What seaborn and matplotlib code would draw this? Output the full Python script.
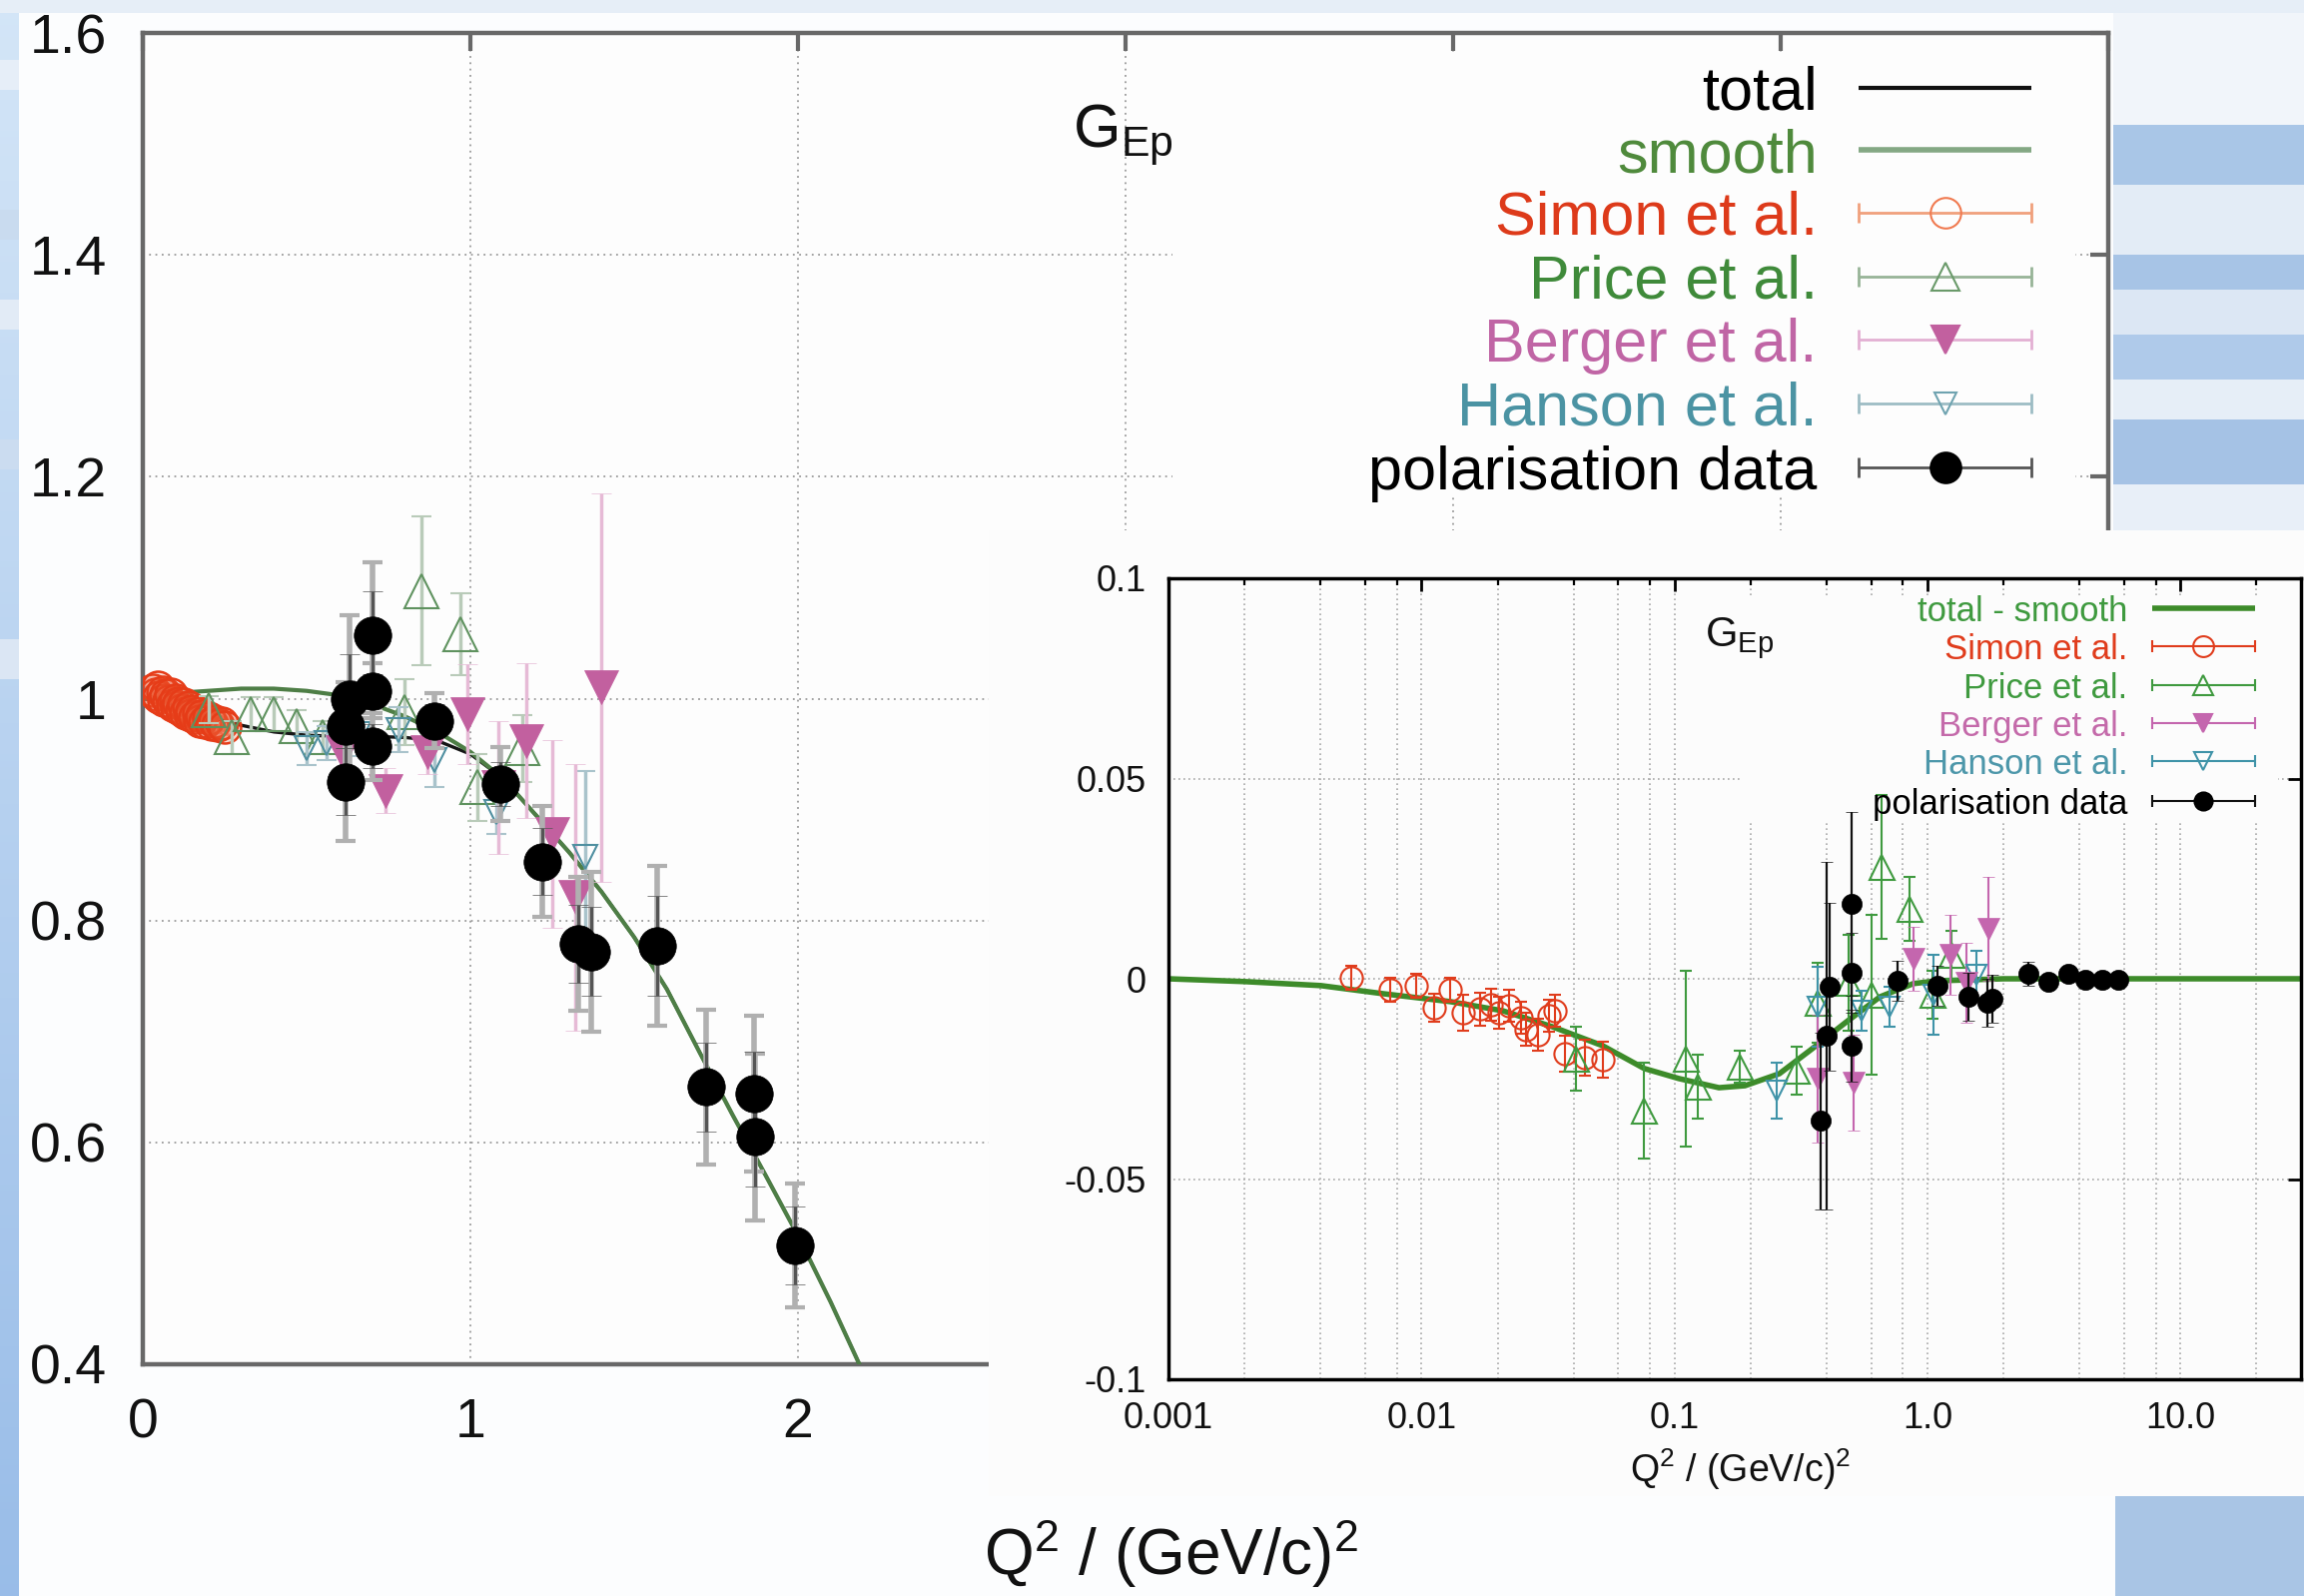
import numpy as np
import matplotlib
matplotlib.use("Agg")
import matplotlib.pyplot as plt
from matplotlib.patches import Rectangle
from matplotlib.ticker import FixedLocator, NullFormatter
import seaborn as sns

# ---------------- main panel: G_Ep (relative to dipole) vs Q^2 ----------------
curve_q2 = [0.0, 0.05, 0.1, 0.15, 0.2, 0.3, 0.4, 0.5, 0.6, 0.7, 0.8, 0.9, 1.0, 1.1, 1.2,
            1.3, 1.4, 1.5, 1.6, 1.7, 1.8, 1.9, 2.0, 2.1, 2.2]
total_ratio = [1.0, 0.998, 0.994, 0.989, 0.984, 0.976, 0.970, 0.967, 0.966, 0.966, 0.965,
               0.962, 0.950, 0.928, 0.895, 0.862, 0.826, 0.785, 0.738, 0.681, 0.625, 0.571,
               0.516, 0.456, 0.392]
smooth_ratio = [1.0, 1.002, 1.004, 1.006, 1.007, 1.009, 1.009, 1.007, 1.003, 0.995, 0.984,
                0.970, 0.952, 0.928, 0.895, 0.862, 0.826, 0.785, 0.738, 0.681, 0.625, 0.571,
                0.516, 0.456, 0.392]

simon_q2 = [0.03, 0.04, 0.045, 0.05, 0.06, 0.065, 0.07, 0.08, 0.085, 0.09, 0.10, 0.105,
            0.11, 0.12, 0.125, 0.13, 0.14, 0.145, 0.15, 0.16, 0.17, 0.175, 0.18, 0.19,
            0.20, 0.21, 0.22, 0.23, 0.24, 0.25]
simon_ratio = [1.008, 1.004, 1.010, 1.001, 1.006, 0.999, 1.003, 0.998, 1.004, 0.994, 0.999,
               0.992, 0.996, 0.990, 0.995, 0.987, 0.992, 0.985, 0.989, 0.983, 0.987, 0.980,
               0.984, 0.979, 0.982, 0.977, 0.980, 0.976, 0.978, 0.974]
simon_err = [0.006] * 30

price_q2 = [0.20, 0.27, 0.33, 0.40, 0.47, 0.55, 0.80, 0.85, 0.97, 1.02, 1.16]
price_ratio = [0.990, 0.965, 0.986, 0.986, 0.975, 0.965, 0.988, 1.097, 1.058, 0.920, 0.955]
price_err = [0.012, 0.015, 0.015, 0.015, 0.015, 0.015, 0.030, 0.067, 0.037, 0.030, 0.030]

hanson_q2 = [0.50, 0.56, 0.66, 0.78, 0.89, 1.08, 1.35]
hanson_ratio = [0.955, 0.960, 0.968, 0.972, 0.945, 0.898, 0.857]
hanson_err = [0.015, 0.015, 0.020, 0.020, 0.025, 0.020, 0.078]

berger_q2 = [0.61, 0.74, 0.87, 0.99, 1.085, 1.17, 1.25, 1.32, 1.40]
berger_ratio = [0.952, 0.917, 0.952, 0.986, 0.920, 0.962, 0.878, 0.821, 1.010]
berger_err = [0.020, 0.020, 0.020, 0.045, 0.060, 0.070, 0.085, 0.120, 0.175]

pol_q2 = [0.62, 0.62, 0.63, 0.70, 0.70, 0.70, 0.89, 1.09, 1.22, 1.33, 1.37, 1.57, 1.72,
          1.866, 1.87, 1.99]
pol_ratio = [0.925, 0.975, 1.000, 1.057, 1.007, 0.957, 0.980, 0.923, 0.853, 0.779, 0.772,
             0.777, 0.650, 0.644, 0.605, 0.507]
pol_err = [0.053, 0.040, 0.075, 0.066, 0.025, 0.030, 0.025, 0.033, 0.050, 0.060, 0.072,
           0.072, 0.070, 0.070, 0.075, 0.056]
pol_stat = [0.030, 0.020, 0.040, 0.040, 0.015, 0.020, 0.015, 0.020, 0.030, 0.035, 0.040,
            0.045, 0.040, 0.038, 0.045, 0.035]

main_xticks = [0, 1, 2, 3, 4, 5, 6]
main_xticklabels = ["0", "1", "2", "", "", "", ""]
main_yticks = [0.4, 0.6, 0.8, 1.0, 1.2, 1.4, 1.6]
main_yticklabels = ["0.4", "0.6", "0.8", "1", "1.2", "1.4", "1.6"]

# ---------------- inset: total - smooth on a log Q^2 axis ----------------
diff_q2 = [0.001, 0.002, 0.004, 0.007, 0.013, 0.021, 0.033, 0.052, 0.076, 0.104, 0.15,
           0.19, 0.26, 0.35, 0.48, 0.65, 0.88, 1.1, 2.0, 5.0, 30.0]
diff_val = [0.0, -0.0007, -0.0017, -0.0037, -0.0057, -0.0080, -0.0120, -0.0167, -0.0224,
            -0.0249, -0.0272, -0.0267, -0.0237, -0.0175, -0.0107, -0.0045, -0.0012,
            -0.0005, 0.0, 0.0, 0.0]

simon_in_q2 = [0.0053, 0.0075, 0.0095, 0.0112, 0.0130, 0.0146, 0.0170, 0.0188, 0.0203,
               0.0222, 0.0247, 0.0258, 0.0290, 0.0318, 0.0337, 0.0369, 0.0441, 0.0520]
simon_in_val = [0.0002, -0.0027, -0.0018, -0.0072, -0.0027, -0.0085, -0.0076, -0.0064,
                -0.0085, -0.0068, -0.0097, -0.0126, -0.0139, -0.0093, -0.0080, -0.0188,
                -0.0197, -0.0201]
simon_in_err = [0.003, 0.003, 0.003, 0.0035, 0.003, 0.0045, 0.004, 0.004, 0.004, 0.004,
                0.004, 0.004, 0.004, 0.004, 0.004, 0.0045, 0.0045, 0.0045]

price_in_q2 = [0.041, 0.076, 0.111, 0.124, 0.182, 0.303, 0.37, 0.49, 0.60, 0.66, 0.85,
               1.05, 1.25]
price_in_val = [-0.020, -0.033, -0.020, -0.027, -0.022, -0.023, -0.006, -0.001, -0.004,
                0.028, 0.0175, -0.004, 0.006]
price_in_err = [0.008, 0.012, 0.022, 0.008, 0.004, 0.006, 0.010, 0.012, 0.020, 0.018,
                0.008, 0.006, 0.006]

berger_in_q2 = [0.37, 0.51, 0.88, 1.23, 1.43, 1.74]
berger_in_val = [-0.025, -0.026, 0.005, 0.006, -0.001, 0.0125]
berger_in_err = [0.016, 0.012, 0.008, 0.010, 0.010, 0.013]

hanson_in_q2 = [0.253, 0.37, 0.55, 0.71, 1.06, 1.56]
hanson_in_val = [-0.028, -0.007, -0.008, -0.007, -0.004, 0.001]
hanson_in_err = [0.007, 0.010, 0.005, 0.005, 0.010, 0.006]

pol_in_q2 = [0.38, 0.40, 0.41, 0.50, 0.50, 0.50, 0.76, 1.10, 1.45, 1.72, 1.80, 2.5, 3.0,
             3.6, 4.2, 4.9, 5.7]
pol_in_val = [-0.0355, -0.0142, -0.002, 0.0187, 0.0015, -0.0167, -0.0005, -0.0017, -0.0045,
              -0.006, -0.005, 0.0012, -0.0008, 0.0012, -0.0002, -0.0002, -0.0002]
pol_in_err = [0.022, 0.0435, 0.021, 0.023, 0.010, 0.009, 0.005, 0.005, 0.006, 0.006, 0.006,
              0.003, 0.002, 0.002, 0.002, 0.002, 0.002]

inset_xticks = [0.001, 0.01, 0.1, 1.0, 10.0]
inset_xticklabels = ["0.001", "0.01", "0.1", "1.0", "10.0"]
inset_yticks = [-0.1, -0.05, 0.0, 0.05, 0.1]
inset_yticklabels = ["-0.1", "-0.05", "0", "0.05", "0.1"]

# ---------------- style ----------------
sns.set_theme(style="white")
plt.rcParams["font.family"] = ["Liberation Sans", "DejaVu Sans"]
plt.rcParams["mathtext.fontset"] = "custom"
plt.rcParams["mathtext.rm"] = "Liberation Sans"
plt.rcParams["mathtext.it"] = "Liberation Sans:italic"
plt.rcParams["mathtext.default"] = "regular"

W, H = 2307, 1598
fig = plt.figure(figsize=(W / 100, H / 100), dpi=100, facecolor="#fcfdfe")

# ---------------- slide background ----------------
bg = fig.add_axes([0, 0, 1, 1], zorder=0)
bg.set_xlim(0, W)
bg.set_ylim(H, 0)
bg.axis("off")
grad = np.linspace(0, 1, 256)[:, None, None]
top_c = np.array([0.83, 0.90, 0.97])
bot_c = np.array([0.60, 0.74, 0.91])
bg.imshow(top_c * (1 - grad) + bot_c * grad, extent=(0, 19, H, 0), aspect="auto")
for y0, y1, c in [(60, 90, "#e6eef8"), (210, 240, "#c9dbef"), (300, 330, "#e2ebf6"),
                  (440, 470, "#cbdcf0"), (640, 680, "#dbe6f4")]:
    bg.add_patch(Rectangle((0, y0), 19, y1 - y0, color=c, lw=0))
bg.add_patch(Rectangle((0, 0), W, 13, color="#e6eef7", lw=0))
for y0, y1, c in [(13, 125, "#f1f5fa"), (125, 185, "#a9c6e7"), (185, 255, "#e3ecf6"),
                  (255, 290, "#a7c4e6"), (290, 335, "#dce7f4"), (335, 380, "#afcaea"),
                  (380, 420, "#e6eef7"), (420, 485, "#a5c2e5"), (485, 531, "#e8eff8")]:
    bg.add_patch(Rectangle((2116, y0), W - 2116, y1 - y0, color=c, lw=0))
bg.add_patch(Rectangle((2118, 1498), W - 2118, H - 1498, color="#a9c5e5", lw=0))

# ---------------- main axes ----------------
ax = fig.add_axes([143 / W, 1 - 1366 / H, 1968 / W, 1333 / H], zorder=1)
ax.set_facecolor("#fdfdfd")
ax.set_axisbelow(True)

sns.lineplot(x=curve_q2, y=total_ratio, ax=ax, color="#151515", lw=2.4, sort=False,
             estimator=None, legend=False, zorder=2.8)
sns.lineplot(x=curve_q2, y=smooth_ratio, ax=ax, color="#4e7e46", lw=3.0, sort=False,
             estimator=None, legend=False, zorder=2.9)


def draw_points(a, x, y, e, marker, ms, mfc, mec, mew, ecolor, elw, cap, z):
    a.errorbar(x, y, yerr=e, fmt=marker, ms=ms, mfc=mfc, mec=mec, mew=mew,
               ecolor=ecolor, elinewidth=elw, capsize=cap, capthick=elw, zorder=z)


draw_points(ax, simon_q2, simon_ratio, simon_err, "o", 23, (0.93, 0.35, 0.2, 0.22),
            "#e63c18", 1.8, "#f0a080", 1.2, 3, 3.0)
draw_points(ax, price_q2, price_ratio, price_err, "^", 25, "none", "#5f925f", 1.5,
            "#b9cbb9", 2.5, 7, 3.1)
draw_points(ax, hanson_q2, hanson_ratio, hanson_err, "v", 17, "none", "#4f8fa0", 1.5,
            "#a9c3cb", 2.5, 7, 3.2)
draw_points(ax, berger_q2, berger_ratio, berger_err, "v", 25, "#c2609f", "#c2609f", 0.5,
            "#e6bad6", 2.5, 7, 3.3)
# total uncertainty (light) underneath the statistical one (dark)
ax.errorbar(pol_q2, pol_ratio, yerr=pol_err, fmt="none", ecolor="#b0b0b0", elinewidth=4,
            capsize=7, capthick=3, zorder=3.4)
draw_points(ax, pol_q2, pol_ratio, pol_stat, "o", 27, "#000000", "#000000", 0.5,
            "#555555", 2.2, 7, 3.5)

ax.set_xlim(0, 6)
ax.set_ylim(0.4, 1.6)
ax.set_xticks(main_xticks)
ax.set_xticklabels(main_xticklabels)
ax.set_yticks(main_yticks)
ax.set_yticklabels(main_yticklabels)
ax.tick_params(axis="both", direction="in", length=13, width=3, color="#686868",
               labelsize=40, labelcolor="#111111", top=True, right=True)
ax.tick_params(axis="y", pad=26)
ax.tick_params(axis="x", pad=24)
ax.grid(True, color="#9a9a9a", lw=1.3, ls=(0, (1, 2.5)))
for s in ax.spines.values():
    s.set_color("#686868")
    s.set_linewidth(3.2)
ax.set_xlabel("Q$^{2}$ / (GeV/c)$^{2}$", fontsize=46, color="#111111", va="center")
ax.xaxis.set_label_coords((1173 - 143) / 1968, -(1555 - 1366) / 1333)

ax.text(0.473, 0.914, "G$_{Ep}$", transform=ax.transAxes, fontsize=44, color="#111111",
        ha="left", va="baseline", zorder=5)

# key box and entries
ax.add_patch(Rectangle((0.524, 0.653), 0.459, 0.331, transform=ax.transAxes,
                       facecolor="#fdfdfd", edgecolor="none", zorder=1.5))


def key_row(a, y, label, tcolor, fs, xt, x0, x1, lcolor, lw, cap=None,
            marker=None, ms=0, mfc="none", mec="none"):
    a.text(xt, y, label, transform=a.transAxes, ha="right", va="center_baseline",
           fontsize=fs, color=tcolor, zorder=5)
    a.plot([x0, x1], [y, y], transform=a.transAxes, color=lcolor, lw=lw, zorder=5,
           solid_capstyle="butt")
    if cap:
        a.plot([x0, x1], [y, y], transform=a.transAxes, ls="none", marker="|", ms=cap,
               mew=lw, color=lcolor, zorder=5)
    if marker:
        a.plot([(x0 + x1) / 2], [y], transform=a.transAxes, ls="none", marker=marker,
               ms=ms, mfc=mfc, mec=mec, mew=1.5, zorder=6)


mx0, mx1, mxt = 0.873, 0.961, 0.852
key_row(ax, 0.959, "total", "#000000", 44, mxt, mx0, mx1, "#111111", 3.0)
key_row(ax, 0.912, "smooth", "#4f8a3c", 44, mxt, mx0, mx1, "#84a884", 4.0)
key_row(ax, 0.865, "Simon et al.", "#dd3a1a", 44, mxt, mx0, mx1, "#f0a07c", 2.0, 14,
        "o", 22, "none", "#f07a50")
key_row(ax, 0.817, "Price et al.", "#3f8a3a", 44, mxt, mx0, mx1, "#97b497", 2.0, 14,
        "^", 20, "none", "#6a9a6a")
key_row(ax, 0.770, "Berger et al.", "#c065a5", 44, mxt, mx0, mx1, "#e3b0d3", 2.0, 14,
        "v", 20, "#c2609f", "#c2609f")
key_row(ax, 0.722, "Hanson et al.", "#4b93a3", 44, mxt, mx0, mx1, "#9dbcc4", 2.0, 14,
        "v", 16, "none", "#6fa3b0")
key_row(ax, 0.674, "polarisation data", "#000000", 44, mxt, mx0, mx1, "#555555", 2.0, 14,
        "o", 22, "#000000", "#000000")

# ---------------- inset ----------------
fig.add_artist(Rectangle((990 / W, 1 - 1498 / H), (W - 990) / W, (1498 - 531) / H,
                         transform=fig.transFigure, facecolor="#fcfcfc",
                         edgecolor="none", zorder=2))

ax2 = fig.add_axes([1170 / W, 1 - 1381 / H, (2304 - 1170) / W, 802 / H], zorder=3)
ax2.set_facecolor("#fcfcfc")
ax2.set_axisbelow(True)
ax2.set_xscale("log")

sns.lineplot(x=diff_q2, y=diff_val, ax=ax2, color="#3d8b2a", lw=4.0, sort=False,
             estimator=None, legend=False, zorder=2.5)

draw_points(ax2, simon_in_q2, simon_in_val, simon_in_err, "o", 16, "none", "#e03c1c", 1.5,
            "#e03c1c", 1.5, 4, 3.0)
draw_points(ax2, price_in_q2, price_in_val, price_in_err, "^", 18, "none", "#3f9a3f", 1.5,
            "#3f9a3f", 1.5, 4, 3.1)
draw_points(ax2, hanson_in_q2, hanson_in_val, hanson_in_err, "v", 15, "none", "#3f93a8",
            1.5, "#3f93a8", 1.5, 4, 3.2)
draw_points(ax2, berger_in_q2, berger_in_val, berger_in_err, "v", 16, "#c466ae", "#c466ae",
            0.5, "#c466ae", 1.5, 4, 3.3)
draw_points(ax2, pol_in_q2, pol_in_val, pol_in_err, "o", 14.5, "#000000", "#000000", 0.5,
            "#111111", 1.6, 4, 3.5)

ax2.set_xlim(0.001, 30)
ax2.set_ylim(-0.1, 0.1)
ax2.xaxis.set_major_locator(FixedLocator(inset_xticks))
ax2.set_xticklabels(inset_xticklabels)
minor_x = [m * 10.0 ** k for k in range(-3, 2) for m in (2, 4, 6, 8)]
ax2.xaxis.set_minor_locator(FixedLocator(minor_x))
ax2.xaxis.set_minor_formatter(NullFormatter())
ax2.set_yticks(inset_yticks)
ax2.set_yticklabels(inset_yticklabels)
ax2.tick_params(axis="both", which="major", direction="in", length=9.5, width=2,
                color="#000000", labelsize=26, labelcolor="#111111", top=True, right=True)
ax2.tick_params(axis="x", which="minor", direction="in", length=5, width=1.6,
                color="#000000", top=True)
ax2.tick_params(axis="y", which="minor", left=False, right=False)
ax2.tick_params(axis="y", pad=16)
ax2.tick_params(axis="x", pad=16)
ax2.grid(True, which="both", axis="x", color="#a8a8a8", lw=1.2, ls=(0, (1, 2)))
ax2.grid(True, which="major", axis="y", color="#a8a8a8", lw=1.2, ls=(0, (1, 2)))
for s in ax2.spines.values():
    s.set_color("#000000")
    s.set_linewidth(2.5)
ax2.set_xlabel("Q$^{2}$ / (GeV/c)$^{2}$", fontsize=27, color="#111111", va="center")
ax2.xaxis.set_label_coords((1743 - 1170) / 1134, -(1471 - 1381) / 802)

ax2.text(0.4735, 0.915, "G$_{Ep}$", transform=ax2.transAxes, fontsize=30, color="#111111",
         ha="left", va="baseline", zorder=5)

ax2.add_patch(Rectangle((0.504, 0.694), 0.476, 0.281, transform=ax2.transAxes,
                        facecolor="#fcfcfc", edgecolor="none", zorder=1.5))

ix0, ix1, ixt = 0.869, 0.959, 0.847
key_row(ax2, 0.963, "total - smooth", "#3f9a3f", 25, ixt, ix0, ix1, "#3d8b2a", 4.0)
key_row(ax2, 0.915, "Simon et al.", "#e03c1c", 25, ixt, ix0, ix1, "#e03c1c", 1.5, 9,
        "o", 15, "none", "#e03c1c")
key_row(ax2, 0.867, "Price et al.", "#3f9a3f", 25, ixt, ix0, ix1, "#3f9a3f", 1.5, 9,
        "^", 14, "none", "#3f9a3f")
key_row(ax2, 0.819, "Berger et al.", "#c46aaa", 25, ixt, ix0, ix1, "#c466ae", 1.5, 9,
        "v", 13, "#c466ae", "#c466ae")
key_row(ax2, 0.772, "Hanson et al.", "#4d97aa", 25, ixt, ix0, ix1, "#3f93a8", 1.5, 9,
        "v", 13, "none", "#3f93a8")
key_row(ax2, 0.722, "polarisation data", "#000000", 25, ixt, ix0, ix1, "#111111", 1.5, 9,
        "o", 13, "#000000", "#000000")

fig.savefig("out.png", dpi=100, facecolor=fig.get_facecolor())
